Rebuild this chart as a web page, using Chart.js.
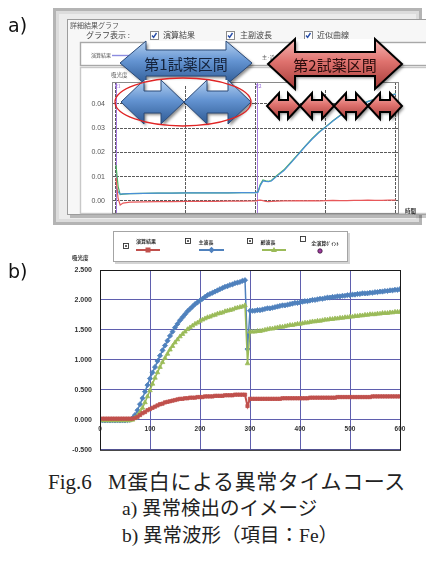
<!DOCTYPE html>
<html>
<head>
<meta charset="utf-8">
<script src="https://cdn.jsdelivr.net/npm/chart.js@4"></script>
<style>
  body { margin: 0; background: #fff; }
  #page { position: relative; width: 426px; height: 562px; overflow: hidden; }
  canvas { position: absolute; left: 0; }
  .lbl { position: absolute; font-family: "DejaVu Sans", sans-serif; font-size: 19px; color: #111; line-height: 20px; }
  .cap { position: absolute; font-family: "Liberation Serif", "Noto Sans CJK JP", serif; color: #222; white-space: nowrap; line-height: 24px; }
</style>
</head>
<body>
<div id="page">
  <canvas id="chartA" width="426" height="228" style="top:0"></canvas>
  <canvas id="chartB" width="426" height="234" style="top:228px"></canvas>
  <div class="lbl" style="left:8px;top:15px">a)</div>
  <div class="lbl" style="left:8px;top:261px">b)</div>
  <div class="cap" style="left:48px;top:470px;font-size:21px">Fig.6</div>
  <div class="cap" style="left:108px;top:470px;font-size:21px;letter-spacing:0.6px">M蛋白による異常タイムコース</div>
  <div class="cap" style="left:122px;top:497px;font-size:19.5px">a) 異常検出のイメージ</div>
  <div class="cap" style="left:122px;top:524px;font-size:19.5px">b) 異常波形（項目：Fe）</div>
</div>
<script>
// ---- a) screenshot chart data (absorbance vs time) ----
const timesA = [0, 3, 6, 10, 20, 40, 60, 80, 100, 120, 140, 160, 180, 200, 203, 206, 210, 214, 218, 222,
  230, 240, 250, 260, 270, 280, 290, 300, 310, 320, 330, 340, 350, 360, 370, 380, 390, 400]
const calcA = [0.0095, 0.0010, -0.0017, -0.0009, -0.0005, -0.0004, -0.0003, -0.0003, -0.0002, -0.0002,
  -0.0002, -0.0001, -0.0001, 0.0000, 0.0002, 0.0003, 0.0001, -0.0002, -0.0003, -0.0002,
  -0.0001, 0.0000, 0.0000, 0.0001, 0.0000, 0.0001, 0.0000, 0.0001, 0.0002, 0.0001,
  0.0001, 0.0002, 0.0002, 0.0003, 0.0002, 0.0002, 0.0003, 0.0003]
const mainA = [0.0054, 0.0038, 0.0028, 0.0029, 0.0030, 0.0031, 0.0032, 0.0032, 0.0033, 0.0033,
  0.0033, 0.0033, 0.0034, 0.0034, 0.0036, 0.0062, 0.0082, 0.0080, 0.0079, 0.0082,
  0.0102, 0.0125, 0.0157, 0.0190, 0.0223, 0.0254, 0.0282, 0.0305, 0.0329, 0.0351,
  0.0369, 0.0384, 0.0397, 0.0409, 0.0419, 0.0427, 0.0434, 0.0440]
const subA = [0.0148, 0.0060, 0.0026, 0.0028, 0.0030, 0.0031, 0.0032, 0.0032, 0.0033, 0.0033,
  0.0033, 0.0033, 0.0034, 0.0034, 0.0038, 0.0066, 0.0086, 0.0083, 0.0081, 0.0084,
  0.0105, 0.0128, 0.0160, 0.0192, 0.0225, 0.0256, 0.0284, 0.0306, 0.0330, 0.0352,
  0.0370, 0.0385, 0.0398, 0.0410, 0.0420, 0.0428, 0.0435, 0.0441]
const yTicksA = [0, 0.01, 0.02, 0.03, 0.04]
const xGridA = [0, 100, 200, 300, 400]
const reagentMarksA = [0, 202]
const reagentNamesA = ['R1', 'R2']

// ---- b) abnormal waveform data (Fe) ----
const timesB = [5, 10, 15, 20, 25, 30, 35, 40, 45, 50, 55, 60, 65, 70, 75, 80, 85, 90, 95, 100,
  105, 110, 115, 120, 125, 130, 135, 140, 145, 150, 155, 160, 165, 170, 175, 180, 185, 190, 195, 200,
  205, 210, 215, 220, 225, 230, 235, 240, 245, 250, 255, 260, 265, 270, 275, 280, 285, 290, 295, 300,
  305, 310, 315, 320, 325, 330, 335, 340, 345, 350, 355, 360, 365, 370, 375, 380, 385, 390, 395, 400,
  405, 410, 415, 420, 425, 430, 435, 440, 445, 450, 455, 460, 465, 470, 475, 480, 485, 490, 495, 500,
  505, 510, 515, 520, 525, 530, 535, 540, 545, 550, 555, 560, 565, 570, 575, 580, 585, 590, 595, 600]
// 演算結果
const calcB = [0.02, 0.02, 0.02, 0.02, 0.02, 0.02, 0.02, 0.02, 0.02, 0.02, 0.02,
  0.02, 0.02, 0.03, 0.05, 0.08, 0.11, 0.13, 0.16, 0.18,
  0.20, 0.22, 0.24, 0.26, 0.27, 0.29, 0.30, 0.31, 0.32, 0.33, 0.34, 0.35, 0.35, 0.36, 0.36, 0.37, 0.37, 0.37, 0.38, 0.38,
  0.38, 0.39, 0.39, 0.39, 0.39, 0.40, 0.40, 0.40, 0.40, 0.41, 0.41, 0.41, 0.41, 0.42, 0.42, 0.42, 0.42, 0.42, 0.23, 0.35,
  0.35, 0.35, 0.35, 0.35, 0.35, 0.35, 0.35, 0.35, 0.35, 0.35,
  0.35, 0.35, 0.36, 0.36, 0.36, 0.36, 0.36, 0.36, 0.36, 0.36,
  0.36, 0.36, 0.36, 0.37, 0.37, 0.37, 0.37, 0.37, 0.37, 0.37,
  0.37, 0.37, 0.37, 0.37, 0.38, 0.38, 0.38, 0.38, 0.38, 0.38,
  0.38, 0.38, 0.38, 0.38, 0.38, 0.38, 0.38, 0.38, 0.39, 0.39,
  0.39, 0.39, 0.39, 0.39, 0.39, 0.39, 0.39, 0.39, 0.39, 0.39]
// 主波長
const mainB = [-0.01, -0.01, -0.01, -0.01, -0.01, -0.01, -0.01, -0.01, -0.01, -0.01, -0.005,
  0.00, 0.03, 0.08, 0.16, 0.26, 0.36, 0.47, 0.58, 0.69,
  0.79, 0.88, 0.98, 1.07, 1.16, 1.24, 1.32, 1.40, 1.47, 1.54, 1.60, 1.66, 1.71, 1.76, 1.81, 1.85, 1.89, 1.93, 1.96, 1.99,
  2.02, 2.05, 2.08, 2.10, 2.12, 2.14, 2.16, 2.18, 2.20, 2.22, 2.23, 2.25, 2.26, 2.28, 2.29, 2.30, 2.32, 2.33, 1.18, 1.82,
  1.82, 1.82, 1.83, 1.83, 1.84, 1.85, 1.86, 1.86, 1.87, 1.88,
  1.89, 1.90, 1.91, 1.91, 1.92, 1.93, 1.94, 1.95, 1.95, 1.96,
  1.97, 1.98, 1.98, 1.99, 2.00, 2.00, 2.01, 2.02, 2.02, 2.03,
  2.04, 2.04, 2.05, 2.05, 2.06, 2.06, 2.07, 2.07, 2.08, 2.08,
  2.09, 2.09, 2.10, 2.10, 2.11, 2.11, 2.11, 2.12, 2.12, 2.13,
  2.13, 2.14, 2.14, 2.15, 2.15, 2.16, 2.16, 2.17, 2.17, 2.18]
// 副波長
const subB = [-0.01, -0.01, -0.01, -0.01, -0.01, -0.01, -0.01, -0.01, -0.01, -0.01, -0.01,
  -0.01, 0.00, 0.03, 0.07, 0.13, 0.20, 0.29, 0.39, 0.49,
  0.60, 0.70, 0.79, 0.88, 0.96, 1.03, 1.10, 1.17, 1.23, 1.29, 1.34, 1.39, 1.43, 1.47, 1.51, 1.54, 1.57, 1.60, 1.62, 1.65,
  1.67, 1.69, 1.71, 1.72, 1.74, 1.75, 1.77, 1.78, 1.79, 1.81, 1.82, 1.83, 1.84, 1.86, 1.87, 1.88, 1.89, 1.91, 0.94, 1.47,
  1.47, 1.47, 1.48, 1.48, 1.49, 1.50, 1.51, 1.52, 1.52, 1.53,
  1.54, 1.55, 1.55, 1.56, 1.57, 1.58, 1.58, 1.59, 1.60, 1.60,
  1.61, 1.62, 1.62, 1.63, 1.64, 1.64, 1.65, 1.65, 1.66, 1.67,
  1.67, 1.68, 1.68, 1.69, 1.69, 1.70, 1.70, 1.71, 1.71, 1.72,
  1.72, 1.73, 1.73, 1.74, 1.74, 1.75, 1.75, 1.76, 1.76, 1.76,
  1.77, 1.77, 1.78, 1.78, 1.78, 1.79, 1.79, 1.80, 1.80, 1.80]
const seriesNamesB = ['演算結果', '主波長', '副波長', '全演算ﾎﾟｲﾝﾄ']

const JP = '"Noto Sans CJK JP", sans-serif'
const pts = (xs, ys) => xs.map((x, i) => ({ x: x, y: ys[i] }))

// ---------- drawing helpers for the screenshot overlay ----------
function checkbox(ctx, x, y, checked) {
  ctx.fillStyle = '#fff'
  ctx.fillRect(x, y, 8, 8)
  ctx.strokeStyle = '#8a8a8a'
  ctx.lineWidth = 1
  ctx.strokeRect(x + 0.5, y + 0.5, 8, 8)
  if (checked) {
    ctx.strokeStyle = '#2a4fa8'
    ctx.lineWidth = 1.4
    ctx.beginPath()
    ctx.moveTo(x + 2, y + 4.5)
    ctx.lineTo(x + 3.6, y + 6.3)
    ctx.lineTo(x + 6.5, y + 2)
    ctx.stroke()
  }
}

function doubleArrow(ctx, a) {
  const { x1, x2, cy, hw, hh, sh } = a
  ctx.save()
  // the pasted arrow pictures keep white notches above and below the shaft
  ctx.fillStyle = '#fff'
  ctx.fillRect(x1 + hw, cy - hh, x2 - x1 - 2 * hw, hh - sh)
  ctx.fillRect(x1 + hw, cy + sh, x2 - x1 - 2 * hw, hh - sh)
  ctx.beginPath()
  ctx.moveTo(x1, cy)
  ctx.lineTo(x1 + hw, cy - hh)
  ctx.lineTo(x1 + hw, cy - sh)
  ctx.lineTo(x2 - hw, cy - sh)
  ctx.lineTo(x2 - hw, cy - hh)
  ctx.lineTo(x2, cy)
  ctx.lineTo(x2 - hw, cy + hh)
  ctx.lineTo(x2 - hw, cy + sh)
  ctx.lineTo(x1 + hw, cy + sh)
  ctx.lineTo(x1 + hw, cy + hh)
  ctx.closePath()
  const g = ctx.createLinearGradient(0, cy - hh, 0, cy + hh)
  a.stops.forEach(s => g.addColorStop(s[0], s[1]))
  ctx.shadowColor = 'rgba(0,0,0,0.45)'
  ctx.shadowBlur = 3
  ctx.shadowOffsetX = 2
  ctx.shadowOffsetY = 2
  ctx.fillStyle = g
  ctx.fill()
  ctx.shadowColor = 'transparent'
  ctx.lineJoin = 'miter'
  ctx.lineWidth = a.lw
  ctx.strokeStyle = a.stroke
  ctx.stroke()
  ctx.restore()
}

const blueStops = [[0, '#b4d0f0'], [0.45, '#6494d2'], [1, '#2e5a94']]
const redStops = [[0, '#f6b8b5'], [0.45, '#df726e'], [1, '#a53b38']]
const bigArrows = [
  { x1: 120, x2: 252, cy: 63, hw: 26, hh: 22, sh: 13, stops: blueStops, stroke: '#2b4a78', lw: 1, text: '第1試薬区間' },
  { x1: 268, x2: 402, cy: 64, hw: 27, hh: 25, sh: 12, stops: redStops, stroke: '#000', lw: 2, text: '第2試薬区間' }
]
const smallArrows = [
  { x1: 121, x2: 184, cy: 102, hw: 23, hh: 22, sh: 11, stops: blueStops, stroke: '#2b4a78', lw: 1 },
  { x1: 184, x2: 251, cy: 102, hw: 23, hh: 22, sh: 11, stops: blueStops, stroke: '#2b4a78', lw: 1 },
  { x1: 267, x2: 300, cy: 106, hw: 12, hh: 13, sh: 6, stops: redStops, stroke: '#000', lw: 2 },
  { x1: 300, x2: 334, cy: 106, hw: 12, hh: 13, sh: 6, stops: redStops, stroke: '#000', lw: 2 },
  { x1: 334, x2: 368, cy: 106, hw: 12, hh: 13, sh: 6, stops: redStops, stroke: '#000', lw: 2 },
  { x1: 368, x2: 402, cy: 106, hw: 12, hh: 13, sh: 6, stops: redStops, stroke: '#000', lw: 2 }
]

const screenshotPlugin = {
  id: 'screenshot',
  beforeDraw(chart) {
    const ctx = chart.ctx
    ctx.save()
    ctx.fillStyle = '#fff'
    ctx.fillRect(0, 0, chart.width, chart.height)
    // outer window frame
    ctx.fillStyle = '#b4b4b4'
    ctx.fillRect(53, 8, 369, 217)
    ctx.fillStyle = '#dcdcdc'
    ctx.fillRect(56, 11, 363, 211)
    ctx.fillStyle = '#ececec'
    ctx.fillRect(59, 14, 357, 205)
    // inner panel
    ctx.fillStyle = 'rgba(0,0,0,0.22)'
    ctx.fillRect(70, 22, 356, 196)
    ctx.fillStyle = '#f7f7f7'
    ctx.fillRect(67, 19, 359, 195)
    ctx.strokeStyle = '#9c9c9c'
    ctx.lineWidth = 1
    ctx.strokeRect(67.5, 19.5, 362, 195)
    // titles and checkboxes
    ctx.fillStyle = '#555'
    ctx.textBaseline = 'middle'
    ctx.font = '7px ' + JP
    ctx.fillText('詳細結果グラフ', 70, 25)
    ctx.font = '8px ' + JP
    ctx.fillStyle = '#444'
    ctx.fillText('グラフ表示 :', 86, 35)
    checkbox(ctx, 150, 31, true)
    ctx.fillStyle = '#444'
    ctx.fillText('演算結果', 163, 35)
    checkbox(ctx, 226, 31, true)
    ctx.fillStyle = '#444'
    ctx.fillText('主副波長', 240, 35)
    checkbox(ctx, 304, 31, true)
    ctx.fillStyle = '#444'
    ctx.fillText('近似曲線', 317, 35)
    // legend strip
    ctx.fillStyle = '#fff'
    ctx.fillRect(80, 42, 346, 23)
    ctx.strokeStyle = '#a8a8a8'
    ctx.strokeRect(80.5, 42.5, 350, 23)
    ctx.fillStyle = '#555'
    ctx.font = '5px ' + JP
    ctx.fillText('演算結果', 91, 55)
    ctx.fillText('主·近似', 262, 57)
    ctx.strokeStyle = '#8c8ce0'
    ctx.beginPath()
    ctx.moveTo(112, 55.5)
    ctx.lineTo(130, 55.5)
    ctx.stroke()
    // graph background
    ctx.fillStyle = '#fff'
    ctx.fillRect(80, 67, 346, 147)
    ctx.strokeStyle = '#c8c8c8'
    ctx.strokeRect(80.5, 67.5, 350, 146)
    ctx.fillStyle = '#555'
    ctx.font = '5.5px ' + JP
    ctx.fillText('吸光度', 111, 75)
    ctx.restore()
  },
  beforeDatasetsDraw(chart) {
    const ctx = chart.ctx
    const xs = chart.scales.x
    const area = chart.chartArea
    ctx.save()
    ctx.strokeStyle = '#a77be0'
    ctx.lineWidth = 1
    ctx.fillStyle = '#9a70d8'
    ctx.font = '5px ' + JP
    ctx.textBaseline = 'middle'
    reagentMarksA.forEach((t, i) => {
      const px = Math.round(xs.getPixelForValue(t)) + 0.5
      ctx.beginPath()
      ctx.moveTo(px, area.top)
      ctx.lineTo(px, area.bottom)
      ctx.stroke()
      ctx.fillText(reagentNamesA[i], px - 2, area.top + 4)
    })
    ctx.strokeStyle = '#8a8a8a'
    ctx.strokeRect(area.left + 0.5, area.top + 0.5, area.right - area.left, area.bottom - area.top)
    ctx.restore()
  },
  afterDraw(chart) {
    const ctx = chart.ctx
    ctx.save()
    ctx.fillStyle = '#333'
    ctx.font = 'bold 5.5px ' + JP
    ctx.textBaseline = 'middle'
    ctx.fillText('時間', 405, 211)
    bigArrows.forEach(a => doubleArrow(ctx, a))
    smallArrows.forEach(a => doubleArrow(ctx, a))
    ctx.font = '15px ' + JP
    ctx.textAlign = 'center'
    bigArrows.forEach(a => {
      ctx.fillStyle = a.stroke === '#000' ? '#2a0c0c' : '#15233c'
      ctx.fillText(a.text, (a.x1 + a.x2) / 2, a.cy + 1)
    })
    ctx.strokeStyle = '#e02424'
    ctx.lineWidth = 1.3
    ctx.beginPath()
    ctx.ellipse(183, 102, 68, 24, 0, 0, Math.PI * 2)
    ctx.stroke()
    ctx.restore()
  }
}

new Chart(document.getElementById('chartA'), {
  type: 'line',
  data: {
    datasets: [
      { label: '演算結果', data: pts(timesA, calcA), borderColor: '#e8585a', borderWidth: 1.2, pointRadius: 0 },
      { label: '主波長', data: pts(timesA, mainA), borderColor: '#4a8fd6', borderWidth: 1.2, pointRadius: 0 },
      { label: '副波長', data: pts(timesA, subA), borderColor: '#4cb45e', borderWidth: 1.2, pointRadius: 0 }
    ]
  },
  options: {
    responsive: false,
    animation: false,
    layout: { padding: { left: 82, right: 28, top: 82, bottom: 15 } },
    plugins: { legend: { display: false }, tooltip: { enabled: false } },
    scales: {
      x: {
        type: 'linear', min: -5.7, max: 403,
        afterFit: s => { s.height = 0 },
        afterBuildTicks: s => { s.ticks = xGridA.map(v => ({ value: v })) },
        ticks: { display: false },
        grid: { color: '#5a5a5a', lineWidth: 1, drawTicks: false },
        border: { display: false, dash: [3, 1] }
      },
      y: {
        min: -0.005, max: 0.049,
        afterFit: s => { s.width = 30 },
        afterBuildTicks: s => { s.ticks = yTicksA.map(v => ({ value: v })) },
        ticks: { padding: 7, color: '#555', font: { size: 7, family: 'Liberation Sans' }, callback: v => v.toFixed(2) },
        grid: { color: '#5a5a5a', lineWidth: 1, drawTicks: false },
        border: { display: false, dash: [3, 1] }
      }
    }
  },
  plugins: [screenshotPlugin]
})

// ---------- b) ----------
const colorsB = ['#c0504d', '#4f81bd', '#9bbb59', '#a03ca0']

function legendMark(ctx, style, x, y, color) {
  ctx.fillStyle = color
  ctx.beginPath()
  if (style === 'rect') ctx.rect(x - 2.5, y - 2.5, 5, 5)
  if (style === 'rectRot') { ctx.moveTo(x, y - 3.2); ctx.lineTo(x + 3.2, y); ctx.lineTo(x, y + 3.2); ctx.lineTo(x - 3.2, y) }
  if (style === 'triangle') { ctx.moveTo(x, y - 3); ctx.lineTo(x + 3, y + 2); ctx.lineTo(x - 3, y + 2) }
  ctx.closePath()
  ctx.fill()
}

function smallBox(ctx, x, y, checked) {
  ctx.fillStyle = '#fff'
  ctx.fillRect(x, y, 5, 5)
  ctx.strokeStyle = '#333'
  ctx.lineWidth = 0.9
  ctx.strokeRect(x + 0.5, y + 0.5, 5, 5)
  if (checked) {
    ctx.fillStyle = '#666'
    ctx.fillRect(x + 2, y + 2, 2, 2)
  }
}

const legendPlugin = {
  id: 'legendB',
  beforeDraw(chart) {
    const ctx = chart.ctx
    ctx.save()
    ctx.fillStyle = '#fff'
    ctx.fillRect(0, 0, chart.width, chart.height)
    ctx.fillStyle = '#d4d4d4'
    ctx.fillRect(115, 5, 235, 31)
    ctx.fillStyle = '#fff'
    ctx.fillRect(113, 3, 234, 30)
    ctx.strokeStyle = '#a4a4a4'
    ctx.lineWidth = 1
    ctx.strokeRect(113.5, 3.5, 234, 30)
    const items = [
      { box: [123, 15, true], tx: 146, ty: 13, line: [136, 160], mark: 'rect', c: colorsB[0] },
      { box: [185, 10, true], tx: 206, ty: 14, line: [199, 224], mark: 'rectRot', c: colorsB[1] },
      { box: [247, 10, true], tx: 268, ty: 14, line: [262, 286], mark: 'triangle', c: colorsB[2] }
    ]
    ctx.textAlign = 'center'
    ctx.textBaseline = 'middle'
    ctx.font = 'bold 5px ' + JP
    items.forEach((it, i) => {
      smallBox(ctx, it.box[0], it.box[1], it.box[2])
      ctx.fillStyle = '#333'
      ctx.fillText(seriesNamesB[i], it.tx, it.ty)
      ctx.strokeStyle = it.c
      ctx.lineWidth = 2
      ctx.beginPath()
      ctx.moveTo(it.line[0], 22)
      ctx.lineTo(it.line[1], 22)
      ctx.stroke()
      legendMark(ctx, it.mark, (it.line[0] + it.line[1]) / 2, 22, it.c)
    })
    smallBox(ctx, 300, 8, false)
    ctx.fillStyle = '#333'
    ctx.fillText(seriesNamesB[3], 325, 15)
    ctx.fillStyle = colorsB[3]
    ctx.strokeStyle = '#301030'
    ctx.lineWidth = 0.8
    ctx.beginPath()
    ctx.arc(320, 23, 2.2, 0, Math.PI * 2)
    ctx.fill()
    ctx.stroke()
    ctx.fillStyle = '#333'
    ctx.textAlign = 'left'
    ctx.font = 'bold 5.5px ' + JP
    ctx.fillText('吸光度', 72, 30)
    ctx.restore()
  },
  afterDraw(chart) {
    const a = chart.chartArea
    const ctx = chart.ctx
    ctx.save()
    ctx.strokeStyle = '#1a1a1a'
    ctx.lineWidth = 1
    ctx.strokeRect(a.left + 0.5, a.top + 0.5, a.right - a.left, a.bottom - a.top)
    ctx.restore()
  }
}

const lineB = (label, ys, color, style, radius, width) => ({
  label: label, data: pts(timesB, ys), borderColor: color, backgroundColor: color,
  borderWidth: width, pointStyle: style, pointRadius: radius, pointBorderWidth: 0.8,
  pointBorderColor: color, pointBackgroundColor: color
})

new Chart(document.getElementById('chartB'), {
  type: 'line',
  data: {
    datasets: [
      lineB(seriesNamesB[0], calcB, colorsB[0], 'rect', 2.3, 2),
      lineB(seriesNamesB[2], subB, colorsB[2], 'triangle', 2.6, 1.5),
      lineB(seriesNamesB[1], mainB, colorsB[1], 'rectRot', 2.6, 1.5)
    ]
  },
  options: {
    responsive: false,
    animation: false,
    layout: { padding: { left: 60, right: 26, top: 42, bottom: 6 } },
    plugins: { legend: { display: false }, tooltip: { enabled: false } },
    scales: {
      x: {
        type: 'linear', min: 0, max: 600, position: { y: 0 },
        ticks: { stepSize: 100, padding: 5, color: '#333', font: { size: 6.5, weight: 'bold', family: 'Liberation Sans' } },
        grid: { color: '#5f5fae', lineWidth: 1, drawTicks: false },
        border: { display: false }
      },
      y: {
        min: -0.5, max: 2.5,
        afterFit: s => { s.width = 40 },
        ticks: { stepSize: 0.5, padding: 8, color: '#333', font: { size: 7, weight: 'bold', family: 'Liberation Sans' }, callback: v => v.toFixed(3) },
        grid: { color: '#5f5fae', lineWidth: 1, drawTicks: false },
        border: { display: false }
      }
    }
  },
  plugins: [legendPlugin]
})
</script>
</body>
</html>
